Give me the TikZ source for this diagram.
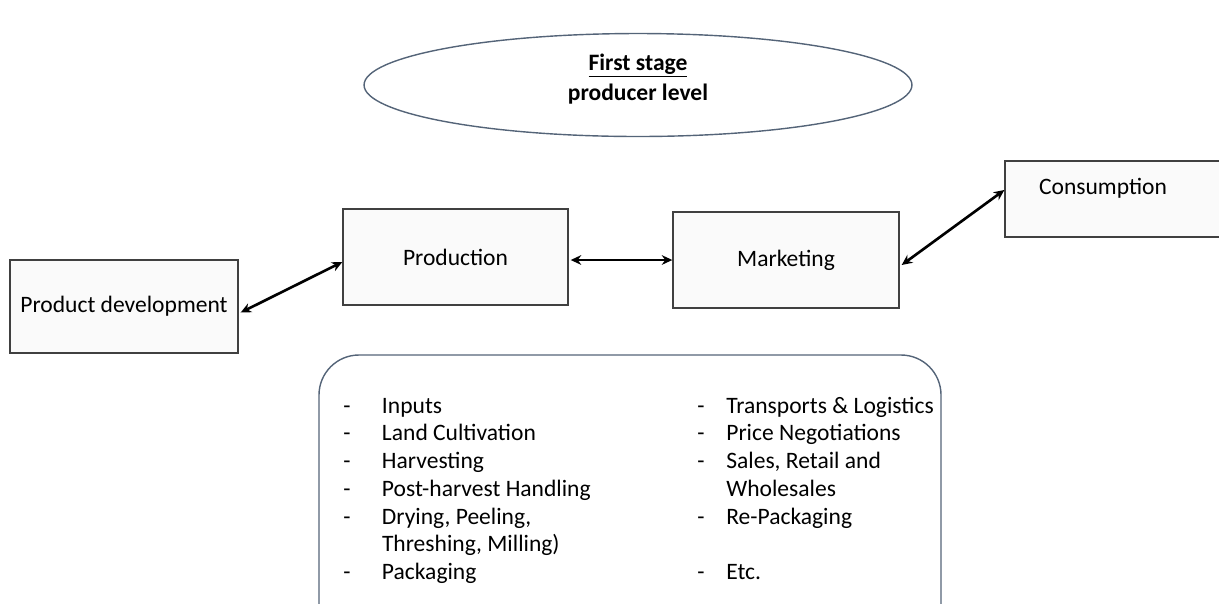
\documentclass[tikz,border=0pt]{standalone}
\usepackage{fontspec}
\setmainfont{Carlito}
\usetikzlibrary{shapes.geometric,arrows.meta,calc}
\definecolor{boxline}{RGB}{64,64,64}
\definecolor{blueline}{RGB}{84,100,120}
\definecolor{boxfill}{RGB}{250,250,250}
\begin{document}
\begin{tikzpicture}[x=0.02cm,y=-0.02cm,
  every node/.style={font=\fontsize{13.4}{15.8}\selectfont},
  stagebox/.style={draw=boxline, line width=0.8pt, fill=boxfill, inner sep=0pt},
  link/.style={line width=1.5pt, {Stealth[length=6pt,width=5.5pt]}-{Stealth[length=6pt,width=5.5pt]}}]
\useasboundingbox (0,0) rectangle (1219,603);
\clip (0,0) rectangle (1219,603);
% ellipse
\node[ellipse, draw=blueline, line width=0.8pt, minimum width=10.96cm, minimum height=2.06cm, inner sep=0pt] (stage) at (638,85) {};
\node[align=center, font=\fontsize{13.4}{17.5}\selectfont\bfseries] (stagetext) at (638,79) {\underline{First stage}\\producer level};
% boxes
\node[stagebox, minimum width=4.56cm, minimum height=1.86cm] (pd) at (124,306.5) {Product development};
\node[stagebox, minimum width=4.5cm, minimum height=1.92cm] (prod) at (455.5,257) {Production};
\node[stagebox, minimum width=4.52cm, minimum height=1.92cm] (mk) at (786,260) {Marketing};
\node[stagebox, minimum width=5cm, minimum height=1.52cm] (cons) at (1130,199) {};
\node (constext) at (1103,188) {Consumption};
% arrows
\draw[link] ($(pd.east)+(2,6)$) -- ($(prod.west)+(0,5)$);
\draw[link] ($(prod.east)+(2,3)$) -- ($(mk.west)+(0,0)$);
\draw[link] ($(mk.east)+(2,5)$) -- ($(cons.west)+(0,-9)$);
% bottom rounded box
\draw[draw=blueline, line width=0.8pt, rounded corners=0.8cm] (319,355) rectangle (941,650);
\node[anchor=base west, inner sep=0pt] (leftlist) at (343,413) {%
\begin{tabular}[t]{@{}p{22pt}@{}l@{}}
- & Inputs\\
- & Land Cultivation\\
- & Harvesting\\
- & Post-harvest Handling\\
- & Drying, Peeling,\\
  & Threshing, Milling)\\
- & Packaging
\end{tabular}};
\node[anchor=base west, inner sep=0pt] (rightlist) at (697,413) {%
\begin{tabular}[t]{@{}p{16.5pt}@{}l@{}}
- & Transports \& Logistics\\
- & Price Negotiations\\
- & Sales, Retail and\\
  & Wholesales\\
- & Re-Packaging\\
  & \\
- & Etc.
\end{tabular}};
\end{tikzpicture}
\end{document}
